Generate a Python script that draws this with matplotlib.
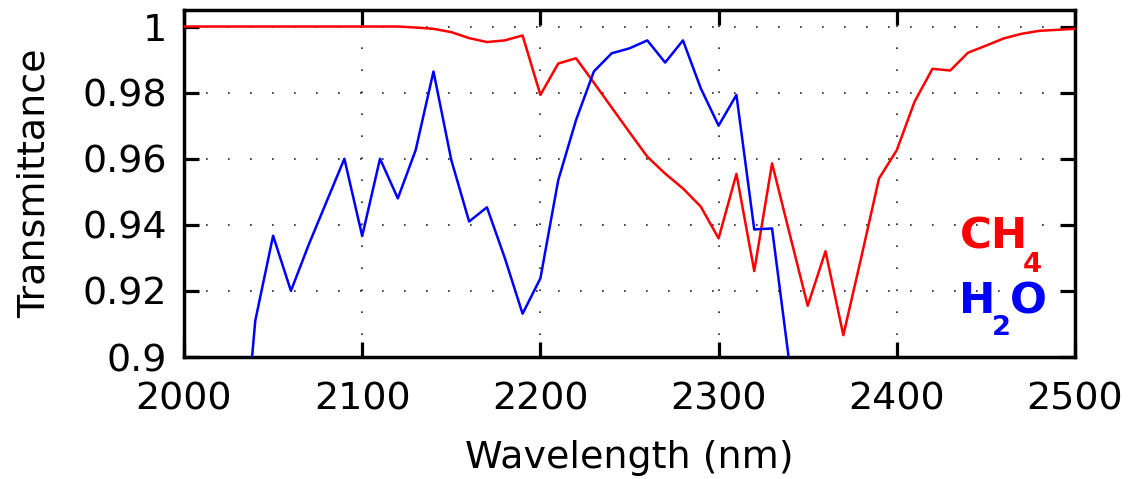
import numpy as np
import matplotlib
matplotlib.use("Agg")
import matplotlib.pyplot as plt

plt.rcParams['font.family'] = ['DejaVu Sans']
plt.rcParams['lines.scale_dashes'] = False

# ---- data ----
wl_ch4 = list(range(2000, 2501, 10))
ch4 = [1.0] * 13 + [
    0.9997, 0.9993, 0.9983, 0.9965, 0.9953, 0.9958, 0.9973, 0.9793, 0.9888, 0.9904,
    0.983, 0.9755, 0.968, 0.9606, 0.9555, 0.951, 0.9455, 0.9359, 0.9554, 0.926,
    0.9586, 0.937, 0.9155, 0.932, 0.9066, 0.930, 0.954, 0.9626, 0.9773, 0.9872,
    0.9867, 0.9921, 0.9942, 0.9964, 0.9978, 0.9987, 0.999, 0.9993]

wl_h2o = list(range(2030, 2341, 10))
h2o = [0.85, 0.911, 0.9367, 0.920, 0.934, 0.947, 0.960, 0.9366, 0.960, 0.948,
       0.9626, 0.9864, 0.9596, 0.941, 0.9453, 0.930, 0.9131, 0.9238, 0.9535, 0.9717,
       0.9864, 0.9919, 0.9934, 0.9958, 0.9891, 0.9958, 0.9813, 0.970, 0.9793, 0.9386,
       0.9389, 0.897]

xticks = [2000, 2100, 2200, 2300, 2400, 2500]
yticks = [0.9, 0.92, 0.94, 0.96, 0.98, 1.0]
ytick_labels = ['0.9', '0.92', '0.94', '0.96', '0.98', '1']

fig = plt.figure(figsize=(11.28, 4.79), dpi=100)
ax = fig.add_axes([184/1128, 1 - 357/479, (1075 - 184)/1128, (357 - 10)/479])

ax.plot(wl_ch4, ch4, color='#ff0000', lw=1.8, zorder=3)
ax.plot(wl_h2o, h2o, color='#0000ff', lw=1.8, zorder=3)

ax.set_xlim(2000, 2500)
ax.set_ylim(0.9, 1.005)
ax.set_xticks(xticks)
ax.set_yticks(yticks)
ax.set_yticklabels(ytick_labels)

ax.grid(True, color='#222222', linestyle=(0, (1.2, 14.64)), linewidth=1.2)
ax.set_axisbelow(True)

for s in ax.spines.values():
    s.set_linewidth(2.5)
ax.tick_params(direction='in', length=10.5, width=2.3, top=True, right=True,
               labelsize=27.4, colors='black')
ax.tick_params(axis='x', pad=18)
ax.tick_params(axis='y', pad=12)

ax.set_xlabel('Wavelength (nm)', fontsize=27.4, labelpad=16)
ax.set_ylabel('Transmittance', fontsize=27.4, labelpad=22)

big = dict(fontsize=31.3, fontweight='bold', transform=ax.transAxes,
           ha='left', va='baseline')
small = dict(fontsize=19.7, fontweight='bold', transform=ax.transAxes,
             ha='left', va='baseline')
ax.text(0.8704, 0.3133, 'CH', color='#ff0000', **big)
ax.text(0.9411, 0.2458, '4', color='#ff0000', **small)
ax.text(0.8702, 0.1259, 'H', color='#0000ff', **big)
ax.text(0.9063, 0.0634, '2', color='#0000ff', **small)
ax.text(0.9265, 0.1259, 'O', color='#0000ff', **big)

fig.savefig('out.png', dpi=100)
